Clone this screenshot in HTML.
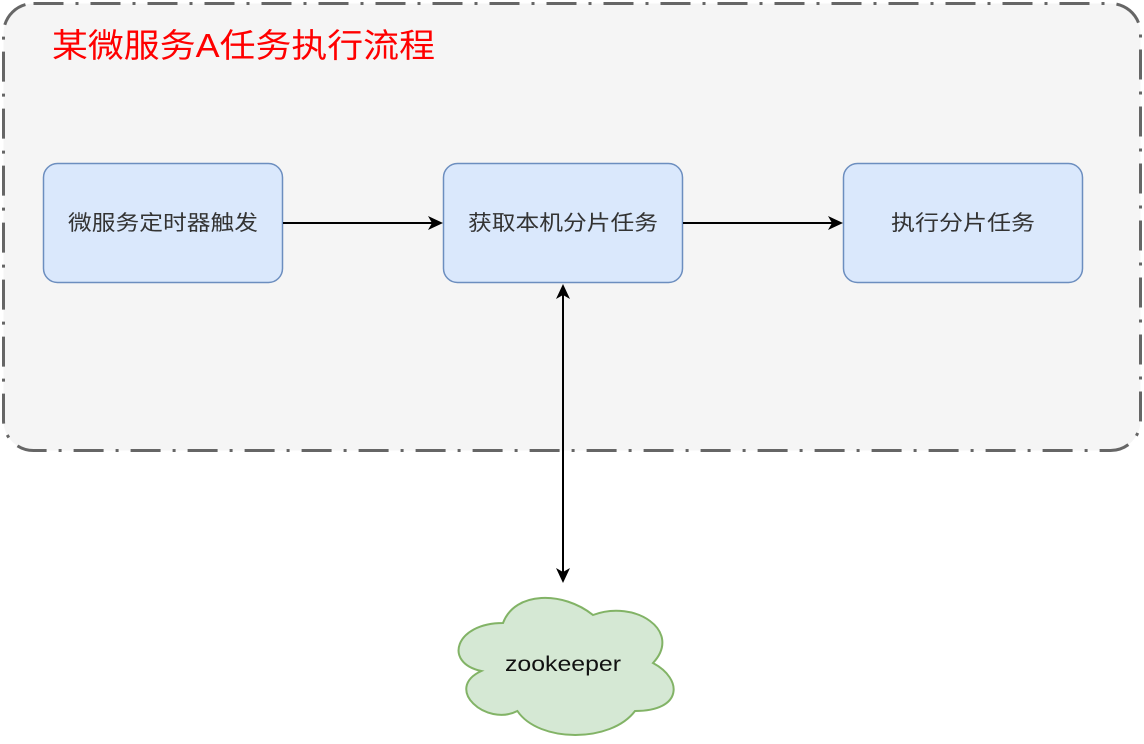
<!DOCTYPE html>
<html><head><meta charset="utf-8"><style>
html,body{margin:0;padding:0;background:#fff;}
svg{display:block;}
text{font-family:"Liberation Sans","Noto Sans CJK SC",sans-serif;}
</style></head><body>
<svg width="1144" height="744" viewBox="0 0 1144 744" xmlns="http://www.w3.org/2000/svg">
<rect x="3.5" y="3.5" width="1137" height="447" rx="30" ry="30" fill="#f5f5f5" stroke="#666" stroke-width="3" stroke-dasharray="30 12 3 12"/>
<text x="52" y="57" font-size="33" fill="#ff0000" textLength="383" lengthAdjust="spacingAndGlyphs">某微服务A任务执行流程</text>
<rect x="43.5" y="163.5" width="239" height="119" rx="14" fill="#dae8fc" stroke="#6c8ebf" stroke-width="1.5"/>
<rect x="443.5" y="163.5" width="239" height="119" rx="14" fill="#dae8fc" stroke="#6c8ebf" stroke-width="1.5"/>
<rect x="843.5" y="163.5" width="239" height="119" rx="14" fill="#dae8fc" stroke="#6c8ebf" stroke-width="1.5"/>
<text x="68" y="230" font-size="21" fill="#333" textLength="190" lengthAdjust="spacingAndGlyphs">微服务定时器触发</text>
<text x="468" y="230" font-size="21" fill="#333" textLength="190" lengthAdjust="spacingAndGlyphs">获取本机分片任务</text>
<text x="891" y="230" font-size="21" fill="#333" textLength="144" lengthAdjust="spacingAndGlyphs">执行分片任务</text>
<line x1="283" y1="223" x2="432" y2="223" stroke="#000" stroke-width="2"/>
<path d="M443,223 L428,216 L432,223 L428,230 Z" fill="#000"/>
<line x1="683" y1="223" x2="832" y2="223" stroke="#000" stroke-width="2"/>
<path d="M843,223 L828,216 L832,223 L828,230 Z" fill="#000"/>
<line x1="563" y1="294" x2="563" y2="572" stroke="#000" stroke-width="2"/>
<path d="M563,284 L570,299 L563,295 L556,299 Z" fill="#000"/>
<path d="M563,583 L570,568 L563,572 L556,568 Z" fill="#000"/>
<path transform="translate(443,583)" d="M60,40 C12,40 0,80 38.4,88 C0,105.6 43.2,144 74.4,128 C96,160 168,160 192,128 C240,128 240,96 210,80 C240,48 192,16 150,32 C120,8 72,8 60,40 Z" fill="#d5e8d4" stroke="#82b366" stroke-width="2"/>
<text x="505" y="671" font-size="21" fill="#111" textLength="116" lengthAdjust="spacingAndGlyphs">zookeeper</text>
</svg>
</body></html>
